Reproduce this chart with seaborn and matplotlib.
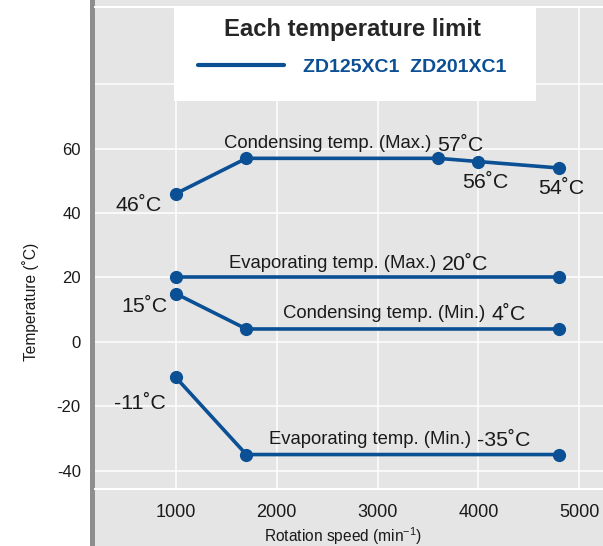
import matplotlib
matplotlib.use("Agg")
import matplotlib.pyplot as plt
import seaborn as sns
from matplotlib.patches import Rectangle
from matplotlib.lines import Line2D

# ---------------- data ----------------
speed_cond_max = [1000, 1700, 3600, 4000, 4800]
temp_cond_max = [46, 57, 57, 56, 54]
speed_evap_max = [1000, 4800]
temp_evap_max = [20, 20]
speed_cond_min = [1000, 1700, 4800]
temp_cond_min = [15, 4, 4]
speed_evap_min = [1000, 1700, 4800]
temp_evap_min = [-11, -35, -35]

x_ticks = [1000, 2000, 3000, 4000, 5000]
x_tick_labels = ["1000", "2000", "3000", "4000", "5000"]
y_ticks = [-40, -20, 0, 20, 40, 60, 80]
y_tick_labels = ["-40", "-20", "0", "20", "40", "60", ""]

legend_title = "Each temperature limit"
legend_label = "ZD125XC1  ZD201XC1"
x_label = "Rotation speed (min$^{-1}$)"
y_label = "Temperature (˚C)"

# descriptive labels (text, x, y, ha)
desc_labels = [
    ("Condensing temp. (Max.)", 3530, 60.1, "right"),
    ("Evaporating temp. (Max.)", 3580, 23.0, "right"),
    ("Condensing temp. (Min.)", 4072, 7.4, "right"),
    ("Evaporating temp. (Min.)", 3924, -31.7, "right"),
]
value_labels = [
    ("57˚C", 3587, 59.4, "left"),
    ("20˚C", 3636, 22.3, "left"),
    ("4˚C", 4132, 6.8, "left"),
    ("-35˚C", 3983, -32.3, "left"),
    ("46˚C", 864, 40.7, "right"),
    ("56˚C", 4070, 47.7, "center"),
    ("54˚C", 4817, 45.9, "center"),
    ("15˚C", 921, 9.2, "right"),
    ("-11˚C", 904, -20.8, "right"),
]

# ---------------- style ----------------
BLUE = "#0b4f94"
BG = "#e5e5e5"
TXT = "#1a1a1a"

sns.set_style("darkgrid")
plt.rcParams["font.family"] = ["Liberation Sans", "DejaVu Sans"]
plt.rcParams["axes.unicode_minus"] = False
plt.rcParams["mathtext.default"] = "regular"

W, H = 603, 546
fig = plt.figure(figsize=(W / 100, H / 100), dpi=100)
fig.patch.set_facecolor("white")


def fx(px):
    return px / W


def fy(py):
    return 1 - py / H


# gray panel and dark vertical rule
fig.add_artist(Rectangle((fx(94.7), 0), 1 - fx(94.7), 1, transform=fig.transFigure,
                         facecolor=BG, edgecolor="none", zorder=-10))
fig.add_artist(Rectangle((fx(90.3), 0), fx(4.4), 1, transform=fig.transFigure,
                         facecolor="#8e8e8e", edgecolor="none", zorder=-9))

ax = fig.add_axes([fx(94.7), fy(489), 1 - fx(94.7), (489 - 7) / H])
ax.set_facecolor(BG)

series = [
    (speed_cond_max, temp_cond_max),
    (speed_evap_max, temp_evap_max),
    (speed_cond_min, temp_cond_min),
    (speed_evap_min, temp_evap_min),
]
for xs, ys in series:
    sns.lineplot(x=xs, y=ys, ax=ax, color=BLUE, lw=2.6, marker="o", markersize=9.5,
                 markeredgewidth=0, sort=False, estimator=None, legend=False, zorder=3)

ax.set_xlim(197.2, 5234.9)
ax.set_ylim(-45.7, 104.0)
ax.set_xticks(x_ticks)
ax.set_xticklabels(x_tick_labels)
ax.set_yticks(y_ticks)
ax.set_yticklabels(y_tick_labels)
ax.tick_params(axis="x", length=0, pad=10.5, labelsize=13, colors=TXT)
ax.tick_params(axis="y", length=0, pad=10, labelsize=12, colors=TXT)
ax.grid(True, color="white", lw=1.1)
ax.set_axisbelow(True)
for side in ["left", "right"]:
    ax.spines[side].set_visible(False)
for side in ["top", "bottom"]:
    ax.spines[side].set_visible(True)
    ax.spines[side].set_color("white")
    ax.spines[side].set_linewidth(1.5)

ax.set_xlabel(x_label, fontsize=11.2, color=TXT)
ax.xaxis.label.set_va("baseline")
ax.xaxis.set_label_coords(0.489, -0.110)
ax.set_ylabel(y_label, fontsize=11.2, color=TXT)
ax.yaxis.set_label_coords(-0.1096, 0.388)

for s, x, y, ha in desc_labels:
    ax.text(x, y, s, ha=ha, va="baseline", fontsize=13.3, color=TXT, zorder=4)
for s, x, y, ha in value_labels:
    ax.text(x, y, s, ha=ha, va="baseline", fontsize=15.4, color=TXT, zorder=4)

# legend box
ax.add_patch(Rectangle((fx(174), fy(101)), fx(536) - fx(174), fy(8) - fy(101),
                       transform=fig.transFigure, facecolor="white", edgecolor="none",
                       zorder=5, clip_on=False))
handle = Line2D([], [], color=BLUE, lw=3)
leg = ax.legend([handle], [legend_label], title=legend_title, loc="upper center",
                bbox_to_anchor=(fx(352), fy(18)), bbox_transform=fig.transFigure,
                frameon=False, prop={"size": 14, "weight": "bold"},
                title_fontproperties={"size": 17.2, "weight": "bold"},
                handlelength=4.42, handletextpad=0.98, labelspacing=0.9,
                borderpad=0, borderaxespad=0)
for t in leg.get_texts():
    t.set_color(BLUE)
leg.set_zorder(6)

fig.savefig("out.png", dpi=100)
